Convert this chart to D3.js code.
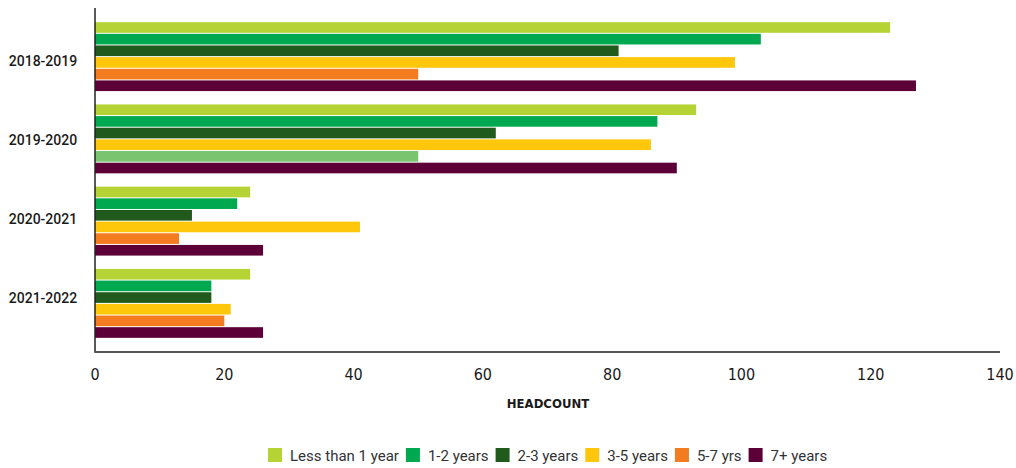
<!DOCTYPE html>
<html>
<head>
<meta charset="utf-8">
<script src="https://cdn.jsdelivr.net/npm/d3@7"></script>
<style>
  html, body { margin: 0; padding: 0; background: #fff; }
  svg { display: block; }
  .cat { font-family: Roboto, "DejaVu Sans", sans-serif; font-weight: 500; font-size: 14px; fill: #1a1a1a; }
  .tick-label { font-family: "Liberation Sans Narrow", "DejaVu Sans Condensed", sans-serif; font-size: 16px; fill: #1a1a1a; }
  .axis-title { font-family: "Liberation Sans Narrow", "DejaVu Sans Condensed", sans-serif; font-weight: bold; font-size: 13px; fill: #1a1a1a; }
  .legend-text { font-family: Roboto, "Noto Sans", sans-serif; font-size: 15px; fill: #333; }
</style>
</head>
<body>
<svg id="chart" width="1016" height="468"></svg>
<script>
// Fiscal years shown on the vertical axis
const years = ["2018-2019", "2019-2020", "2020-2021", "2021-2022"];

// Tenure bands (one bar per band in each year)
const tenures = ["Less than 1 year", "1-2 years", "2-3 years", "3-5 years", "5-7 yrs", "7+ years"];
const tenureColors = ["#b5d334", "#00a84f", "#215a1d", "#fec70b", "#f47c20", "#5c0037"];

// Headcount per tenure band, one array per band, ordered by year
const lessThan1 = [123, 93, 24, 24];
const oneToTwo  = [103, 87, 22, 18];
const twoToThree = [81, 62, 15, 18];
const threeToFive = [99, 86, 41, 21];
const fiveToSeven = [50, 50, 13, 20];
const sevenPlus = [127, 90, 26, 26];
const seriesValues = [lessThan1, oneToTwo, twoToThree, threeToFive, fiveToSeven, sevenPlus];

// The 5-7 yrs bar for 2019-2020 is filled in a lighter green
const colorOverrides = [{ year: "2019-2020", tenure: "5-7 yrs", color: "#7ac46f" }];

const xTicks = [0, 20, 40, 60, 80, 100, 120, 140];
const xTitle = "HEADCOUNT";

const svg = d3.select("#chart");
const plotLeft = 95, plotRight = 1000, plotTop = 9, plotBottom = 352;

const x = d3.scaleLinear().domain([0, 140]).range([plotLeft, plotRight]);
const y0 = d3.scaleBand().domain(years).range([plotTop, plotBottom]).paddingInner(0.15).paddingOuter(0.16);
const y1 = d3.scaleBand().domain(tenures).range([0, y0.bandwidth()]).padding(0);
// Year labels sit on their own, slightly tighter, vertical spacing
const yLabel = d3.scalePoint().domain(years).range([61.5, 298.5]);

const rows = [];
years.forEach((yr, i) => {
  tenures.forEach((t, j) => {
    const o = colorOverrides.find(c => c.year === yr && c.tenure === t);
    rows.push({ year: yr, tenure: t, value: seriesValues[j][i], color: o ? o.color : tenureColors[j] });
  });
});

// Bars
svg.append("g").selectAll("rect")
  .data(rows)
  .join("rect")
  .attr("x", x(0))
  .attr("y", d => y0(d.year) + y1(d.tenure))
  .attr("width", d => x(d.value) - x(0))
  .attr("height", y1.bandwidth() - 1)
  .attr("fill", d => d.color);

// Left axis line
svg.append("line")
  .attr("x1", plotLeft).attr("x2", plotLeft)
  .attr("y1", 8).attr("y2", plotBottom)
  .attr("stroke", "#222").attr("stroke-width", 1.5);

// Bottom axis line
svg.append("line")
  .attr("x1", plotLeft - 0.75).attr("x2", plotRight)
  .attr("y1", plotBottom).attr("y2", plotBottom)
  .attr("stroke", "#555").attr("stroke-width", 2);

// Category labels
svg.append("g").selectAll("text")
  .data(years)
  .join("text")
  .attr("class", "cat")
  .attr("x", 43)
  .attr("y", d => yLabel(d))
  .attr("dy", "0.35em")
  .attr("text-anchor", "middle")
  .text(d => d);

// X tick labels
svg.append("g").selectAll("text")
  .data(xTicks)
  .join("text")
  .attr("class", "tick-label")
  .attr("x", d => x(d))
  .attr("y", 380)
  .attr("text-anchor", "middle")
  .text(d => d);

svg.append("text")
  .attr("class", "axis-title")
  .attr("x", 548)
  .attr("y", 408)
  .attr("text-anchor", "middle")
  .text(xTitle);

// Legend
const legend = svg.append("g").attr("transform", "translate(0,448)");
let lx = 268;
tenures.forEach((t, j) => {
  const g = legend.append("g").attr("transform", `translate(${lx},0)`);
  g.append("rect").attr("width", 14).attr("height", 14).attr("fill", tenureColors[j]);
  const txt = g.append("text").attr("class", "legend-text").attr("x", 22).attr("y", 12.5).text(t);
  lx += 22 + txt.node().getComputedTextLength() + 7;
});
</script>
</body>
</html>
